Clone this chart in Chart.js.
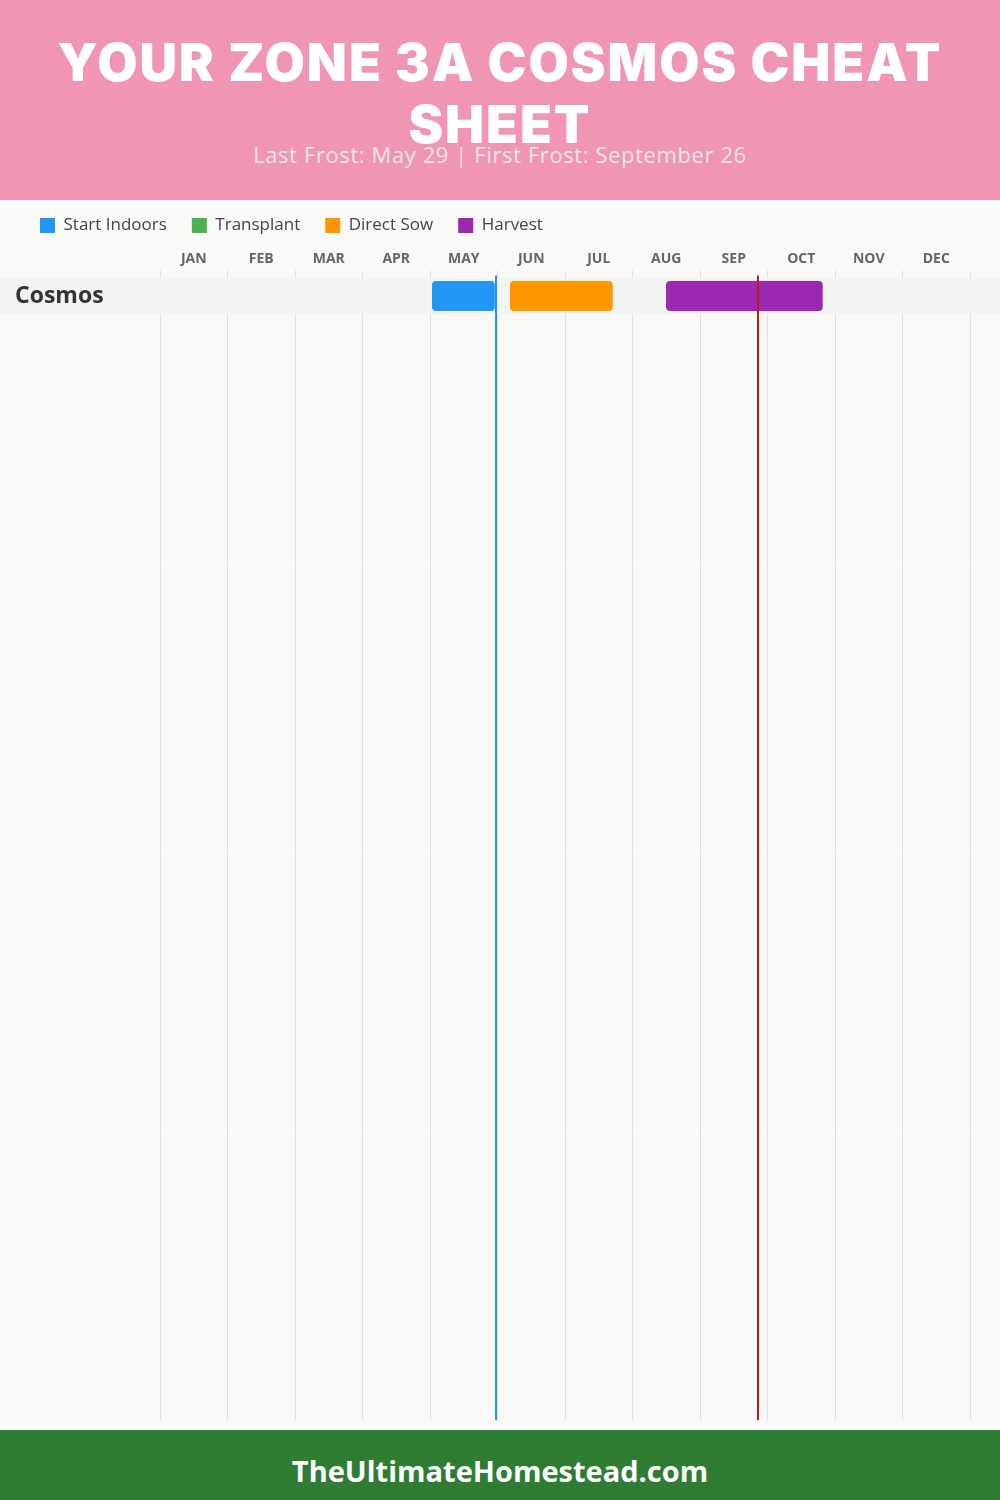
<!DOCTYPE html>
<html>
<head>
<meta charset="utf-8">
<title>Zone 3A Cosmos Cheat Sheet</title>
<script src="https://cdn.jsdelivr.net/npm/chart.js@4.4.1/dist/chart.umd.min.js"></script>
<style>
  html, body { margin: 0; padding: 0; }
  body { width: 1000px; height: 1500px; background: #f9f9f7; position: relative; overflow: hidden; font-family: 'Open Sans', sans-serif; }
  #header { position: absolute; left: 0; top: 0; width: 1000px; height: 200px; background: #f095b3; }
  #title { position: absolute; left: 0; top: 32px; width: 1000px; text-align: center; color: #fff; font-family: Inter, sans-serif; font-weight: 900; font-size: 52px; line-height: 62px; letter-spacing: 2px; white-space: nowrap; }
  #subtitle { position: absolute; left: 0; top: 141px; width: 1000px; text-align: center; color: #e6e6e6; font-size: 22px; line-height: 26px; letter-spacing: 0.6px; }
  #chartBox { position: absolute; left: 0; top: 192px; width: 1000px; height: 1245px; }
  #footer { position: absolute; left: 0; top: 1430px; width: 1000px; height: 70px; overflow: hidden; background: #2e7d32; color: #fff; font-weight: 700; font-size: 29px; line-height: 82px; text-align: center; }
</style>
</head>
<body>
<div id="header">
  <div id="title">YOUR ZONE 3A COSMOS CHEAT<br>SHEET</div>
  <div id="subtitle">Last Frost: May 29 | First Frost: September 26</div>
</div>
<div id="chartBox"><canvas id="myChart"></canvas></div>
<div id="footer">TheUltimateHomestead.com</div>

<script>
// month axis: 0 = start of Jan, 12 = end of Dec
const MONTHS = ['JAN', 'FEB', 'MAR', 'APR', 'MAY', 'JUN', 'JUL', 'AUG', 'SEP', 'OCT', 'NOV', 'DEC'];
const CROPS = ['Cosmos'];

// one [start, end] per crop (in months), null = none
const START_INDOORS = [[4.03, 4.96]];
const TRANSPLANT = [null];
const DIRECT_SOW = [[5.185, 6.707]];
const HARVEST = [[7.496, 9.818]];

const LAST_FROST = 4.975;   // May 29
const FIRST_FROST = 8.865;  // Sep 26

const ROWS_SHOWN = 32.63;   // empty rows that fill the sheet

Chart.defaults.font.family = "'Open Sans', sans-serif";

function toBars(ranges) {
  let out = [];
  ranges.forEach((r, i) => {
    if (r) out.push({ x: r, y: i });
  });
  return out;
}

// grey band behind each crop row
const rowBands = {
  id: 'rowBands',
  beforeDatasetsDraw(chart) {
    const ctx = chart.ctx;
    const y = chart.scales.y;
    ctx.save();
    ctx.fillStyle = '#f3f3f2';
    CROPS.forEach((c, i) => {
      const top = y.getPixelForValue(i - 0.5);
      const bottom = y.getPixelForValue(i + 0.5);
      ctx.fillRect(0, top, chart.width, bottom - top);
    });
    ctx.restore();
  }
};

// frost date lines
const frostLines = {
  id: 'frostLines',
  afterDatasetsDraw(chart) {
    const ctx = chart.ctx;
    const x = chart.scales.x;
    const area = chart.chartArea;
    ctx.save();
    ctx.lineWidth = 2;
    [[LAST_FROST, '#2196F3'], [FIRST_FROST, '#b71c1c']].forEach(([v, col]) => {
      const px = Math.round(x.getPixelForValue(v));
      ctx.strokeStyle = col;
      ctx.beginPath();
      ctx.moveTo(px, area.top - 3);
      ctx.lineTo(px, area.bottom);
      ctx.stroke();
    });
    ctx.restore();
  }
};

const ctx = document.getElementById('myChart');
const myChart = new Chart(ctx, {
  type: 'bar',
  data: {
    datasets: [
      { label: 'Start Indoors', data: toBars(START_INDOORS), backgroundColor: '#2196F3' },
      { label: 'Transplant', data: toBars(TRANSPLANT), backgroundColor: '#4CAF50' },
      { label: 'Direct Sow', data: toBars(DIRECT_SOW), backgroundColor: '#FF9800' },
      { label: 'Harvest', data: toBars(HARVEST), backgroundColor: '#9C27B0' },
    ],
  },
  options: {
    responsive: true,
    maintainAspectRatio: false,
    animation: false,
    indexAxis: 'y',
    grouped: false,
    maxBarThickness: 30,
    borderRadius: 4,
    borderSkipped: false,
    borderWidth: 0,
    layout: { padding: { left: 15, right: 30, top: 0, bottom: 10 } },
    plugins: {
      legend: {
        position: 'top',
        align: 'start',
        labels: { boxWidth: 15, boxHeight: 15, padding: 25, color: '#444', font: { size: 17 } },
      },
      tooltip: { enabled: false },
    },
    scales: {
      x: { type: 'linear', min: 0, max: 12, display: false },
      x2: {
        type: 'category',
        labels: MONTHS,
        position: 'top',
        offset: true,
        grid: { offset: true, color: '#e0e0e0', tickLength: 8 },
        border: { display: false },
        // empty title only adds a little space under the legend
        title: { display: true, text: '', padding: 0, font: { size: 4, lineHeight: 1.125 } },
        ticks: { color: '#666', padding: 2.6, font: { size: 14, weight: 'bold', lineHeight: 1.2 } },
      },
      y: {
        type: 'linear',
        offset: false,
        min: -0.5,
        max: ROWS_SHOWN - 0.5,
        reverse: true,
        grid: { display: false },
        border: { display: false },
        afterFit: (scale) => { scale.width = 145; },
        ticks: {
          z: 1,
          stepSize: 1,
          includeBounds: false,
          autoSkip: false,
          crossAlign: 'far',
          color: '#333',
          font: { size: 23, weight: 'bold' },
          callback: (v) => CROPS[v],
        },
      },
    },
  },
  plugins: [rowBands, frostLines],
});
</script>
</body>
</html>
